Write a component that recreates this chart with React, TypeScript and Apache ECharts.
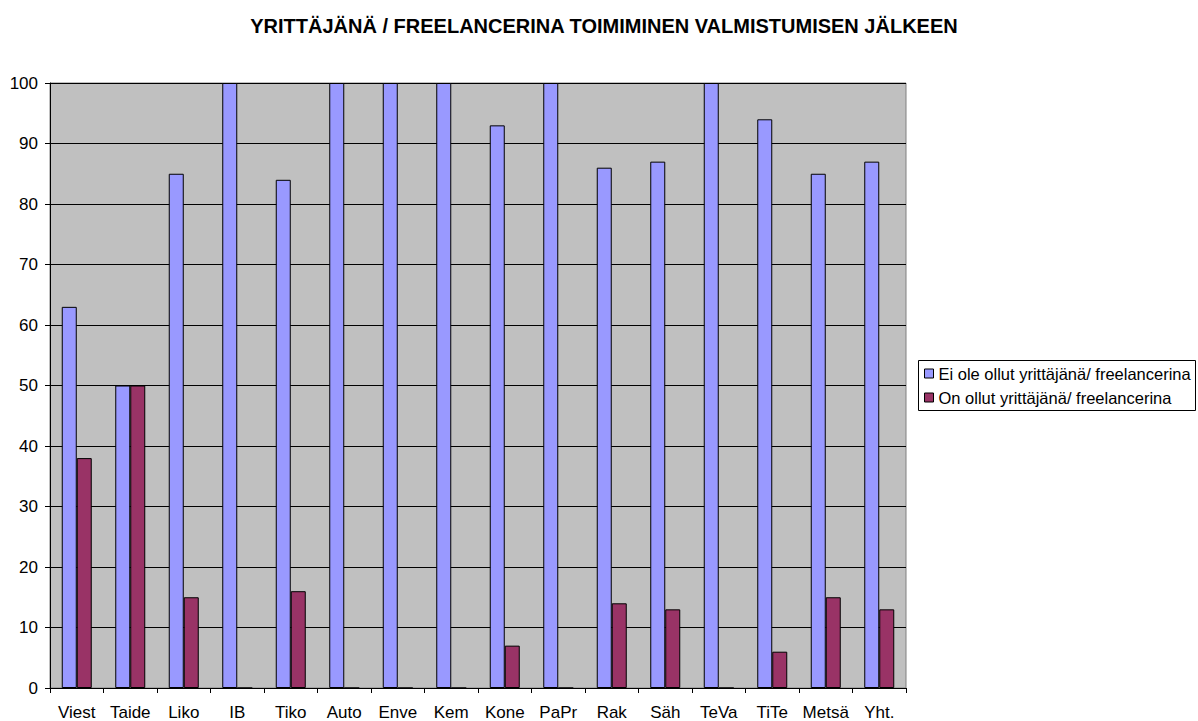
import React, { useEffect, useRef } from "react";
import * as echarts from "echarts";

const categories = ["Viest", "Taide", "Liko", "IB", "Tiko", "Auto", "Enve", "Kem", "Kone", "PaPr", "Rak", "Säh", "TeVa", "TiTe", "Metsä", "Yht."];
const eiOle = [63, 50, 85, 100, 84, 100, 100, 100, 93, 100, 86, 87, 100, 94, 85, 87];
const onOllut = [38, 50, 15, 0, 16, 0, 0, 0, 7, 0, 14, 13, 0, 6, 15, 13];
const seriesNames = ["Ei ole ollut yrittäjänä/ freelancerina", "On ollut yrittäjänä/ freelancerina"];
const yTicks = { min: 0, max: 100, interval: 10 };
const title = "YRITTÄJÄNÄ / FREELANCERINA TOIMIMINEN VALMISTUMISEN JÄLKEEN";

export default function App() {
  const ref = useRef<HTMLDivElement>(null);
  useEffect(() => {
    if (!ref.current) return;
    const chart = echarts.init(ref.current, null, { renderer: "svg" });
    const font = "Arial, 'Liberation Sans', sans-serif";
    chart.setOption({
      animation: false,
      backgroundColor: "#ffffff",
      textStyle: { fontFamily: font },
      title: {
        text: title,
        left: 599,
        textAlign: "center",
        top: 11,
        textStyle: { fontFamily: font, fontSize: 20, fontWeight: "bold", color: "#000" },
      },
      legend: {
        orient: "vertical",
        left: 924,
        top: 365,
        padding: 0,
        itemWidth: 9,
        itemHeight: 9,
        itemGap: 7,
        icon: "rect",
        textStyle: { fontFamily: font, fontSize: 16.5, color: "#000" },
        data: seriesNames.map((n) => ({ name: n, itemStyle: { borderColor: "#000", borderWidth: 1 } })),
      },
      graphic: [
        {
          type: "rect",
          shape: { x: 918.5, y: 360.5, width: 277, height: 50 },
          style: { fill: "none", stroke: "#000", lineWidth: 1 },
          silent: true,
        },
      ],
      grid: {
        left: 50,
        top: 83,
        width: 856,
        height: 606,
        show: true,
        backgroundColor: "#C0C0C0",
        borderColor: "#808080",
        borderWidth: 1,
      },
      xAxis: {
        type: "category",
        data: categories,
        axisLine: { show: true, lineStyle: { color: "#000", width: 1 } },
        axisTick: { show: true, alignWithLabel: false, length: 5, lineStyle: { color: "#000" } },
        axisLabel: { color: "#000", fontSize: 17, margin: 16, fontFamily: font, interval: 0 },
      },
      yAxis: {
        type: "value",
        min: yTicks.min,
        max: yTicks.max,
        interval: yTicks.interval,
        axisLine: { show: true, lineStyle: { color: "#000", width: 1 } },
        axisTick: { show: true, length: 5, lineStyle: { color: "#000" } },
        axisLabel: { color: "#000", fontSize: 17, margin: 12, fontFamily: font },
        splitLine: { show: true, lineStyle: { color: "#000", width: 1 } },
      },
      series: [
        {
          name: seriesNames[0],
          type: "bar",
          data: eiOle,
          barWidth: 15,
          barGap: "0%",
          itemStyle: { color: "#9999FF", borderColor: "#000", borderWidth: 1 },
        },
        {
          name: seriesNames[1],
          type: "bar",
          data: onOllut,
          barWidth: 15,
          barGap: "0%",
          itemStyle: { color: "#993366", borderColor: "#000", borderWidth: 1 },
        },
      ],
    });
    return () => chart.dispose();
  }, []);
  return <div ref={ref} style={{ position: "fixed", left: 0, top: 0, width: 1198, height: 721 }} />;
}
